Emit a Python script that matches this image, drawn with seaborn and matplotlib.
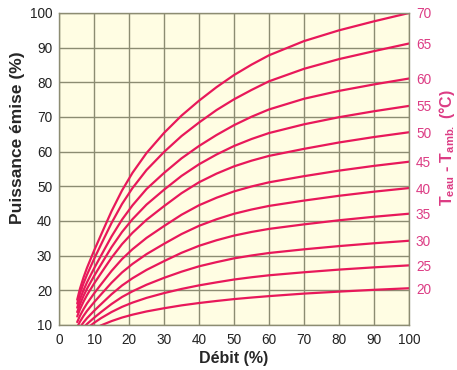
import pandas as pd
import seaborn as sns
import matplotlib.pyplot as plt

# débit (%) where each curve was read
debit = [5.2, 6, 7, 8, 10, 12, 15, 18, 21, 25, 30, 35, 40, 45, 50, 55, 60, 70, 80, 90, 100]

# Teau - Tamb. (°C) for each curve
delta_t = [20, 25, 30, 35, 40, 45, 50, 55, 60, 65, 70]

# puissance émise (%)
p_20 = [5.36, 6.08, 6.9, 7.62, 8.86, 9.89, 11.12, 12.15, 12.98, 13.91, 14.83,
        15.66, 16.34, 16.93, 17.47, 17.92, 18.33, 19.06, 19.63, 20.15, 20.6]
p_25 = [5.98, 7.07, 8.11, 9.03, 10.61, 11.97, 13.74, 15.23, 16.46, 17.82, 19.2,
        20.4, 21.43, 22.3, 23.12, 23.77, 24.34, 25.21, 25.98, 26.63, 27.2]
p_30 = [6.86, 8.06, 9.26, 10.29, 12.07, 13.72, 16.05, 18.08, 19.72, 21.61, 23.6,
        25.38, 26.93, 28.13, 29.22, 30.05, 30.77, 31.83, 32.76, 33.58, 34.3]
p_35 = [8.0, 9.35, 10.74, 11.96, 14.06, 16.0, 18.86, 21.39, 23.49, 25.89, 28.42,
        30.82, 32.84, 34.44, 35.79, 36.84, 37.72, 39.03, 40.21, 41.22, 42.1]
p_40 = [9.41, 10.99, 12.62, 14.06, 16.53, 18.81, 22.18, 25.15, 27.62, 30.44, 33.41,
        36.23, 38.61, 40.49, 42.08, 43.31, 44.35, 45.89, 47.27, 48.46, 49.5]
p_45 = [10.85, 12.68, 14.56, 16.22, 19.07, 21.7, 25.58, 29.01, 31.86, 35.12, 38.54,
        41.8, 44.54, 46.71, 48.54, 49.96, 51.16, 52.93, 54.53, 55.9, 57.1]
p_50 = [12.46, 14.56, 16.73, 18.63, 21.91, 24.93, 29.39, 33.32, 36.6, 40.34, 44.28,
        48.02, 51.17, 53.66, 55.76, 57.4, 58.78, 60.81, 62.65, 64.22, 65.6]
p_55 = [13.73, 15.99, 18.37, 20.46, 24.08, 27.45, 32.43, 36.82, 40.52, 44.73, 49.01,
        53.0, 56.36, 59.18, 61.63, 63.65, 65.37, 67.89, 69.94, 71.66, 73.2]
p_60 = [15.0, 17.44, 20.03, 22.3, 26.28, 30.0, 35.52, 40.39, 44.52, 49.23, 53.85,
        58.07, 61.64, 64.8, 67.64, 70.07, 72.18, 75.26, 77.53, 79.4, 81.1]
p_65 = [16.2, 19.1, 22.0, 24.5, 29.0, 33.2, 39.4, 44.9, 49.5, 54.7, 59.9,
        64.5, 68.4, 72.0, 75.1, 77.8, 80.3, 83.9, 86.7, 89.0, 91.2]
p_70 = [17.3, 20.5, 23.7, 26.5, 31.4, 36.0, 42.8, 48.8, 53.9, 59.6, 65.4,
        70.4, 74.7, 78.6, 82.1, 85.1, 87.8, 91.9, 95.0, 97.6, 100.0]

curves = [p_20, p_25, p_30, p_35, p_40, p_45, p_50, p_55, p_60, p_65, p_70]

rows = []
for dt, vals in zip(delta_t, curves):
    for d, p in zip(debit, vals):
        rows.append({'debit': d, 'puissance': p, 'dt': dt})
df = pd.DataFrame(rows)

sns.set_style('white')
plt.rcParams['font.family'] = ['Liberation Sans', 'DejaVu Sans']
plt.rcParams['mathtext.fontset'] = 'custom'
plt.rcParams['mathtext.bf'] = 'Liberation Sans:bold'
plt.rcParams['mathtext.rm'] = 'Liberation Sans'

red = '#e8185a'
pink = '#dc3c84'
grid_col = '#8c8c72'

fig = plt.figure(figsize=(4.57, 3.70), dpi=100)
ax = fig.add_axes([59 / 457, 1 - 325 / 370, 350 / 457, 312 / 370])
ax.set_facecolor('#fffde3')

sns.lineplot(data=df, x='debit', y='puissance', units='dt', estimator=None,
             color=red, lw=1.6, legend=False, ax=ax)

ax.set_xlim(0, 100)
ax.set_ylim(10, 100)
ax.set_xticks(range(0, 101, 10))
ax.set_yticks(range(10, 101, 10))
ax.grid(True, color=grid_col, lw=1.0)
ax.set_axisbelow(True)
for s in ax.spines.values():
    s.set_color(grid_col)
    s.set_linewidth(1.0)
ax.tick_params(length=0, labelsize=9.8, colors='#222222')
ax.tick_params(axis='x', pad=6)
ax.tick_params(axis='y', pad=5)
ax.set_xlabel('')
ax.set_ylabel('')

# right axis: one label at the end of each curve
ax2 = ax.twinx()
ax2.set_ylim(10, 100)
ax2.set_yticks([c[-1] for c in curves])
ax2.set_yticklabels([str(t) for t in delta_t])
ax2.tick_params(length=0, labelsize=9.8, labelcolor=pink, pad=5)
for s in ax2.spines.values():
    s.set_visible(False)

fig.text(18 / 457, 1 - 138 / 370, 'Puissance émise (%)', rotation=90,
         ha='center', va='center', fontsize=12.5, fontweight='bold')
fig.text(234 / 457, 1 - 358 / 370, 'Débit (%)', ha='center', va='center',
         fontsize=11.5, fontweight='bold')
fig.text(447 / 457, 1 - 148 / 370, r'T$_{\mathbf{eau}}$ - T$_{\mathbf{amb.}}$ (°C)',
         rotation=90, ha='center', va='center', fontsize=11.5,
         fontweight='bold', color=pink)

fig.savefig('out.png', dpi=100, facecolor='white')
